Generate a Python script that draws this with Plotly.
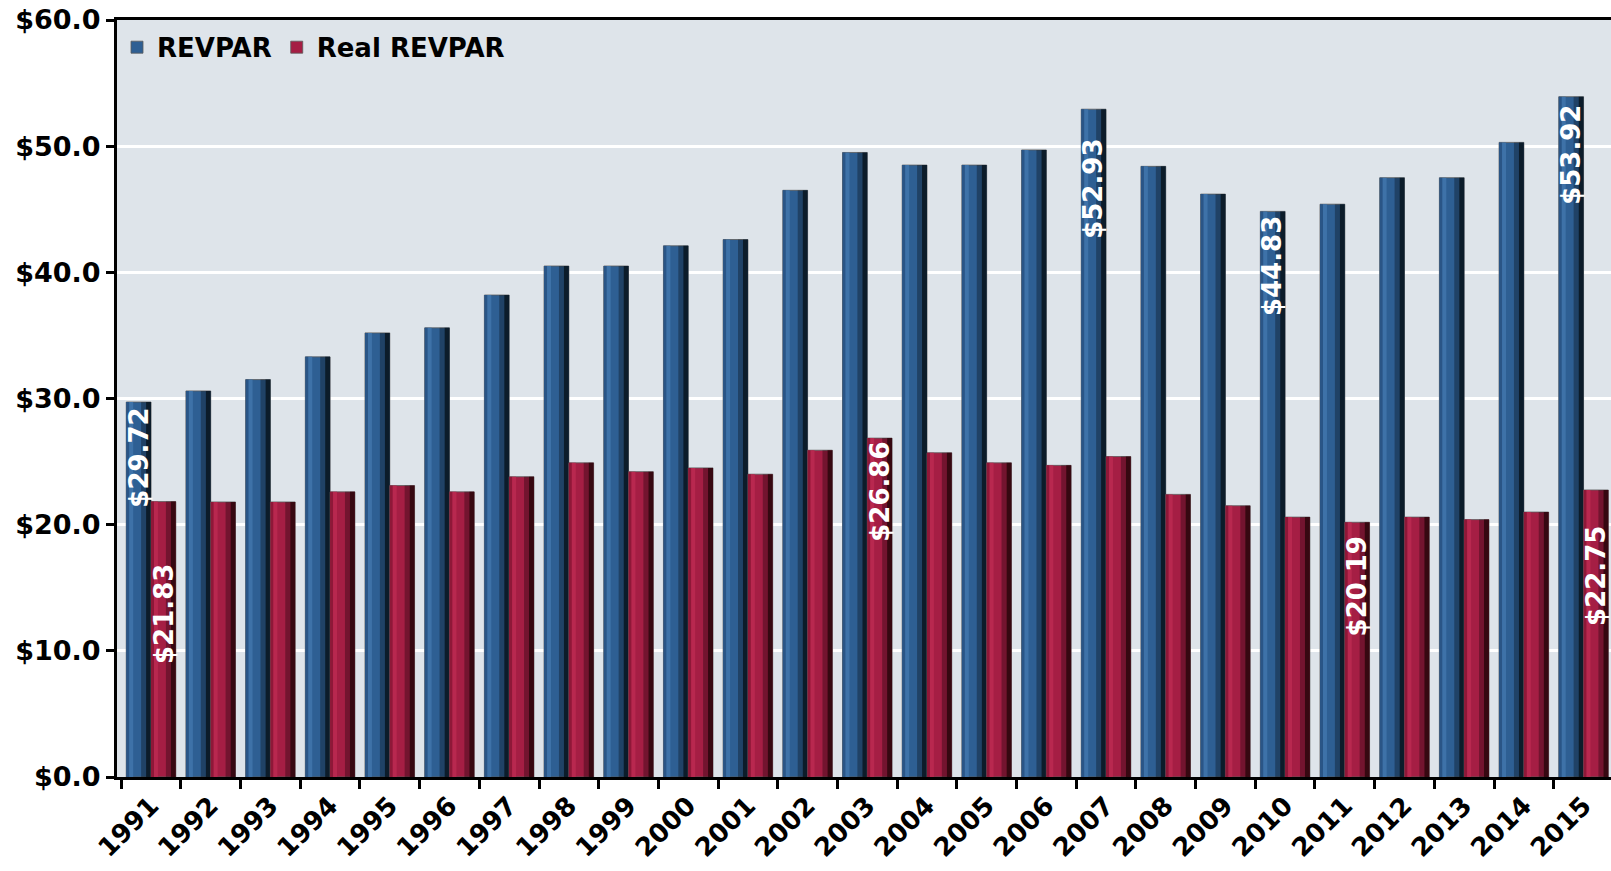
import plotly.graph_objects as go

years = [str(y) for y in range(1991, 2016)]
revpar = [29.72, 30.6, 31.5, 33.3, 35.2, 35.6, 38.2, 40.5, 40.5, 42.1, 42.6, 46.5,
          49.5, 48.5, 48.5, 49.7, 52.93, 48.4, 46.2, 44.83, 45.4, 47.5, 47.5, 50.3, 53.92]
real_revpar = [21.83, 21.8, 21.8, 22.6, 23.1, 22.6, 23.8, 24.9, 24.2, 24.5, 24.0, 25.9,
               26.86, 25.7, 24.9, 24.7, 25.4, 22.4, 21.5, 20.6, 20.19, 20.6, 20.4, 21.0, 22.75]
y_ticks = [0, 10, 20, 30, 40, 50, 60]
y_tick_labels = ["$%.1f" % v for v in y_ticks]

# labelled bars: (series, year)
labelled = [("REVPAR", "1991"), ("Real REVPAR", "1991"), ("Real REVPAR", "2003"),
            ("REVPAR", "2007"), ("REVPAR", "2010"), ("Real REVPAR", "2011"),
            ("REVPAR", "2015"), ("Real REVPAR", "2015")]
label_shift = [-4, -60, -2, -28, -3, -12, -6, -34]

W = 0.415

fig = go.Figure()

def add_series(name, vals, offset, base, mid, dark, light):
    fig.add_trace(go.Bar(x=years, y=vals, name=name, width=W, offset=offset,
                         marker=dict(color=mid, line=dict(color="rgba(90,90,90,0.8)", width=1)),
                         showlegend=True, legendgroup=name))
    strips = [
        (0.0, 0.12, base),
        (0.12, 0.28, light),
        (0.60, 0.80, "rgba(0,0,0,0.30)"),
        (0.80, 1.0, dark),
    ]
    for a, b, col in strips:
        fig.add_trace(go.Bar(x=years, y=vals, width=W * (b - a), offset=offset + W * a,
                             marker=dict(color=col, line=dict(width=0)),
                             showlegend=False, hoverinfo="skip", legendgroup=name))

add_series("REVPAR", revpar, -W, "#2A5586", "#2E5F93", "#0C1C2A", "#3E72A8")
add_series("Real REVPAR", real_revpar, 0.0, "#8E1838", "#A51E44", "#360811", "#B8284F")

series = {"REVPAR": (revpar, -W / 2), "Real REVPAR": (real_revpar, W / 2)}
for (s, yr), sh in zip(labelled, label_shift):
    vals, off = series[s]
    i = years.index(yr)
    v = vals[i]
    fig.add_annotation(x=i + off, y=v, text="$%.2f" % v, showarrow=False,
                       textangle=-90, yanchor="top", xanchor="center", yshift=sh,
                       font=dict(family="DejaVu Sans", size=26, color="white", weight="bold"))

fig.update_layout(
    width=1611, height=871,
    margin=dict(l=117, r=0, t=20, b=94, autoexpand=False),
    paper_bgcolor="white", plot_bgcolor="#DEE4EA",
    barmode="overlay",
    showlegend=True,
    legend=dict(x=0.0, y=0.995, xanchor="left", yanchor="top", orientation="h",
                bgcolor="rgba(0,0,0,0)",
                font=dict(family="DejaVu Sans", size=26, color="black", weight="bold"),
                tracegroupgap=0),
    font=dict(family="DejaVu Sans", color="black"),
)
fig.update_xaxes(
    type="category", range=[-0.57, 24.46], automargin=False,
    tickangle=-45, tickfont=dict(family="DejaVu Sans", size=26, color="black", weight="bold"),
    showline=True, linecolor="black", linewidth=3, mirror=True,
    ticks="outside", tickson="boundaries", ticklen=9, tickwidth=2.5, tickcolor="black",
    showgrid=False,
)
fig.update_yaxes(
    range=[0, 60], tickmode="array", tickvals=y_ticks, ticktext=y_tick_labels, automargin=False,
    tickfont=dict(family="DejaVu Sans", size=27, color="black", weight="bold"),
    showline=True, linecolor="black", linewidth=3,
    ticks="outside", ticklen=8, tickwidth=2.5, tickcolor="black",
    showgrid=True, gridcolor="white", gridwidth=3, zeroline=False,
)

fig.write_html(
    "out.html",
    config={"displayModeBar": False},
    post_script="document.body.style.margin='0';document.body.style.overflow='hidden';",
)
